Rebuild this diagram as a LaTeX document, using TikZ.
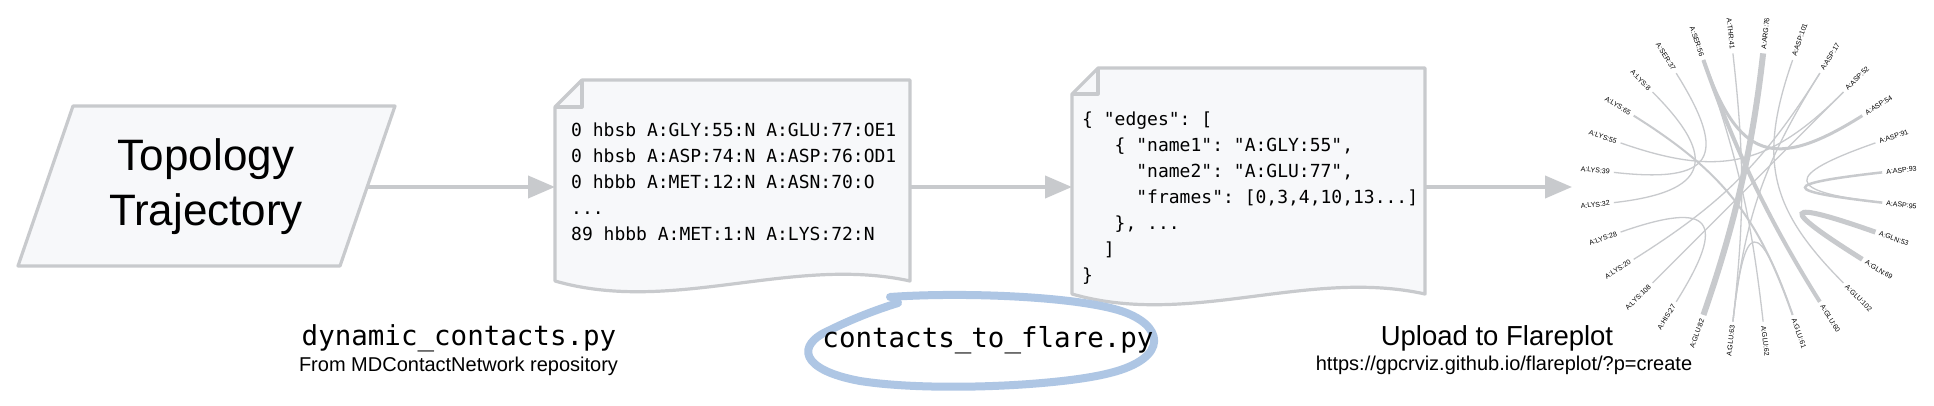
\documentclass[tikz,border=0pt]{standalone}
\usepackage{fontspec}
\setmainfont{Liberation Sans}
\setmonofont{DejaVu Sans Mono}
\usetikzlibrary{arrows.meta}
\definecolor{edgegray}{RGB}{200,202,205}
\definecolor{paperfill}{RGB}{247,248,250}
\definecolor{loopblue}{RGB}{174,198,228}
\newcommand\flareedge[4]{%
  \draw[flareline, line width=#4pt]
    ({6.4286+12.8571*#1}:135) .. controls ({6.4286+12.8571*#1}:#3) and ({6.4286+12.8571*#2}:#3) .. ({6.4286+12.8571*#2}:135);}
\begin{document}
\begin{tikzpicture}[x=1pt,y=-1pt,
  shapeline/.style={draw=edgegray, line width=3.2pt, line join=round, fill=paperfill},
  foldline/.style={draw=edgegray, line width=3.2pt, line join=round},
  flowarrow/.style={draw=edgegray, line width=4pt, -{Triangle[length=27pt,width=22pt]}},
  doctext/.style={font=\fontsize{18}{26}\selectfont\ttfamily, align=left, anchor=north west, inner sep=0pt, text=black},
  holder/.style={inner sep=0pt, outer sep=0pt, draw=none},
  flareline/.style={draw=edgegray},
  flarelabel/.style={font=\fontsize{7}{8}\selectfont, inner sep=0pt, text=black},
  scriptname/.style={font=\fontsize{27.5}{30}\selectfont\ttfamily, anchor=base, inner sep=0pt},
  subnote/.style={font=\fontsize{20}{24}\selectfont, anchor=base, inner sep=0pt},
  headnote/.style={font=\fontsize{27.5}{30}\selectfont, anchor=base, inner sep=0pt},
  loopstroke/.style={draw=loopblue, line width=8pt, line cap=round, line join=round}
]
\useasboundingbox (0,0) rectangle (1934,406);
\fill[white] (0,0) rectangle (1934,406);

% input parallelogram
\filldraw[shapeline] (73,106) -- (395,106) -- (340,266) -- (18,266) -- cycle;
\node[font=\fontsize{44}{55}\selectfont, align=center, inner sep=0pt] (topo) at (206,187) {Topology\\Trajectory};
\coordinate (topoE) at (367,187);

% document 1
\filldraw[shapeline] (582,80) -- (910,80) -- (910,281) .. controls (792,255) and (673,315) .. (555,281) -- (555,107) -- cycle;
\draw[foldline] (555,107) -- (582,107) -- (582,80);
\node[holder, minimum width=355pt, minimum height=201pt] (doc1) at (732.5,180.5) {};
\node[doctext] (doc1txt) at (571,122.5) {0 hbsb A:GLY:55:N A:GLU:77:OE1\\0 hbsb A:ASP:74:N A:ASP:76:OD1\\0 hbbb A:MET:12:N A:ASN:70:O\\...\\89 hbbb A:MET:1:N A:LYS:72:N};

% document 2
\filldraw[shapeline] (1098,68) -- (1425,68) -- (1425,294) .. controls (1307,268) and (1190,328) .. (1072,294) -- (1072,94) -- cycle;
\draw[foldline] (1072,94) -- (1098,94) -- (1098,68);
\node[holder, minimum width=353pt, minimum height=226pt] (doc2) at (1248.5,181) {};
\node[doctext] (doc2txt) at (1082,111.5) {\{ "edges": [\\\hphantom{000}\{ "name1": "A:GLY:55",\\\hphantom{00000}"name2": "A:GLU:77",\\\hphantom{00000}"frames": [0,3,4,10,13...]\\\hphantom{000}\}, ...\\\hphantom{00}]\\\}};

% arrows
\coordinate (flarein) at (1572,187);
\draw[flowarrow] (topoE) -- (topoE -| doc1.west);
\draw[flowarrow] (doc1.east |- topoE) -- (doc2.west |- topoE);
\draw[flowarrow] (doc2.east |- topoE) -- (flarein);

% captions
\node[scriptname] (cap1) at (459,345) {dynamic\_contacts.py};
\node[subnote] (cap1b) at (458.5,371) {From MDContactNetwork repository};
\draw[loopstroke] (890,297) .. controls (960,292) and (1070,296) .. (1118,310)
  .. controls (1165,324) and (1170,358) .. (1110,373)
  .. controls (1060,386) and (930,392) .. (860,381)
  .. controls (800,370) and (795,345) .. (830,330)
  .. controls (850,320) and (875,310) .. (898,303);
\node[scriptname] (cap2) at (988,347) {contacts\_to\_flare.py};
\node[headnote] (cap3) at (1497,345) {Upload to Flareplot};
\node[subnote] (cap3b) at (1504,370) {https://gpcrviz.github.io/flareplot/?p=create};

% flare plot
\begin{scope}[shift={(1748,187.5)}, yscale=-1]
  \foreach \lab [count=\i from 0] in {A:ASP:93,A:ASP:91,A:ASP:54,A:ASP:52,A:ASP:17,A:ASP:101,A:ARG:76,A:THR:41,A:SER:56,A:SER:37,A:LYS:8,A:LYS:65,A:LYS:55,A:LYS:39,A:LYS:32,A:LYS:28,A:LYS:20,A:LYS:108,A:HIS:27,A:GLU:82,A:GLU:63,A:GLU:62,A:GLU:61,A:GLU:60,A:GLU:102,A:GLN:69,A:GLN:53,A:ASP:95}{
    \pgfmathsetmacro\ang{6.4286+12.8571*\i}
    \pgfmathtruncatemacro\lft{(\ang>90)*(\ang<270)}
    \pgfmathsetmacro\rot{\ang-180}
    \ifnum\lft=1
      \node[flarelabel, anchor=east, rotate=\rot] (fl\i) at (\ang:139) {\lab};
    \else
      \node[flarelabel, anchor=west, rotate=\ang] (fl\i) at (\ang:139) {\lab};
    \fi
  }
  \flareedge{10}{14}{40}{1.3}
  \flareedge{9}{13}{35}{1.3}
  \flareedge{15}{18}{38}{1.3}
  \flareedge{16}{4}{30}{1.3}
  \flareedge{17}{3}{30}{1.3}
  \flareedge{12}{3}{30}{1.3}
  \flareedge{11}{22}{30}{2}
  \flareedge{8}{21}{30}{1.3}
  \flareedge{7}{20}{30}{1.3}
  \flareedge{20}{22}{30}{1.3}
  \flareedge{4}{20}{30}{1.3}
  \flareedge{5}{24}{30}{1.3}
  \flareedge{1}{27}{36}{1.3}
  \flareedge{0}{27}{31.5}{2.5}
  \flareedge{26}{25}{35.5}{5}
  \flareedge{8}{2}{30}{3}
  \flareedge{8}{23}{40}{4}
  \flareedge{6}{19}{40}{6}
\end{scope}
\end{tikzpicture}
\end{document}
